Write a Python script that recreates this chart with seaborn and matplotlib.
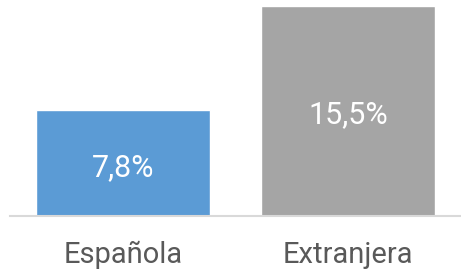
"""Bar chart: percentage by nationality (Española vs Extranjera)."""

import matplotlib.pyplot as plt
import pandas as pd
import seaborn as sns

categories = ["Española", "Extranjera"]
values = [7.8, 15.5]
value_labels = ["7,8%", "15,5%"]
bar_colors = ["#5B9BD5", "#A5A5A5"]

sns.set_theme(style="white")
plt.rcParams["font.family"] = ["Roboto", "DejaVu Sans"]

df = pd.DataFrame({"grupo": categories, "pct": values})

fig = plt.figure(figsize=(4.61, 2.74), dpi=100)
ax = fig.add_axes([10 / 461, 1 - 216 / 274, 1 - 10 / 461, 216 / 274])

sns.barplot(data=df, x="grupo", y="pct", hue="grupo", palette=bar_colors,
            width=0.77, legend=False, ax=ax, saturation=1)

for i, (v, lab) in enumerate(zip(values, value_labels)):
    ax.text(i, v / 2 - 0.3, lab, ha="center", va="center", color="white",
            fontsize=22)

ax.set_xlim(-0.5, 1.5)
ax.set_ylim(0, 15.95)
ax.set_xlabel("")
ax.set_ylabel("")
ax.set_yticks([])
ax.tick_params(axis="x", length=0, pad=18, labelsize=21, labelcolor="#595959")
for side in ["top", "left", "right"]:
    ax.spines[side].set_visible(False)
ax.spines["bottom"].set_color("#D9D9D9")
ax.spines["bottom"].set_linewidth(1.5)

fig.savefig("out.png", dpi=100)
plt.close(fig)
